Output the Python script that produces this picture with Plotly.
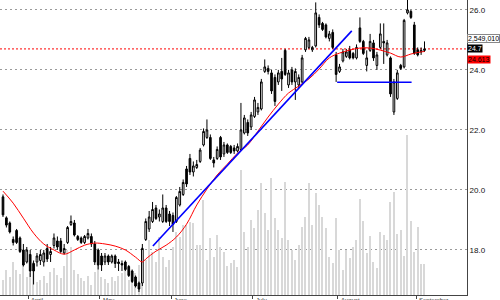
import plotly.graph_objects as go

opens = [19.77, 19.07, 18.9, 18.35, 18.65, 18.4, 18.0, 17.6, 17.85, 17.55,
         17.6, 17.65, 17.6, 18.05, 17.85, 18.15, 18.3, 18.3, 17.9, 18.25,
         18.85, 18.9, 18.45, 18.4, 18.25, 18.4, 18.45, 18.2, 18.0, 17.8,
         17.6, 17.8, 17.6, 17.8, 17.6, 17.55, 17.6, 17.45, 17.3, 17.1,
         16.9, 16.9, 18.35, 18.7, 18.95, 19.4, 19.1, 18.95, 19.4, 19.2,
         19.15, 18.95, 19.5, 19.85, 20.7, 21.05, 20.6, 20.75, 20.95, 21.5,
         21.75, 21.75, 21.0, 21.05, 21.75, 21.2, 21.5, 21.45, 21.4, 21.3,
         21.35, 21.9, 22.25, 22.1, 22.45, 22.6, 22.7, 23.95, 24.05, 23.9,
         23.75, 23.6, 23.95, 24.65, 23.5, 24.0, 23.6, 23.5, 23.6, 24.67,
         24.75, 24.67, 24.8, 25.75, 25.55, 25.5, 25.05, 25.25, 24.5, 23.95,
         24.3, 24.45, 24.67, 24.55, 24.4, 25.4, 24.95, 24.15, 24.65, 24.9,
         24.15, 24.75, 24.95, 24.5, 24.4, 22.6, 23.05, 24.15, 24.1, 25.9,
         25.95, 25.5, 24.67, 24.6, 24.65]
highs = [19.85, 19.12, 18.95, 18.45, 18.7, 18.45, 18.2, 18.1, 18.0, 17.65,
         17.9, 18.0, 18.0, 18.2, 18.1, 18.55, 18.45, 18.4, 18.2, 18.8,
         19.15, 19.0, 18.5, 18.45, 18.5, 18.7, 18.55, 18.3, 18.05, 17.9,
         17.9, 17.85, 17.85, 17.85, 17.7, 17.65, 17.65, 17.5, 17.35, 17.15,
         16.95, 18.2, 19.05, 19.3, 19.6, 19.5, 19.35, 19.85, 19.5, 19.3,
         19.25, 19.8, 20.1, 20.35, 20.8, 21.2, 20.95, 21.0, 21.4, 22.05,
         22.35, 21.85, 21.1, 21.45, 21.8, 21.6, 21.55, 21.5, 21.5, 21.55,
         22.9, 22.5, 22.35, 22.6, 23.1, 22.9, 23.7, 24.35, 24.15, 24.0,
         23.85, 24.0, 24.4, 24.7, 24.0, 24.1, 24.05, 23.85, 24.5, 25.1,
         25.1, 24.8, 26.25, 25.85, 25.6, 25.55, 25.3, 25.35, 24.6, 24.2,
         24.7, 24.7, 24.8, 24.6, 24.85, 25.75, 25.0, 24.65, 25.2, 25.0,
         24.6, 25.55, 25.55, 25.0, 24.45, 23.7, 24.0, 24.2, 25.7, 26.33,
         26.0, 25.6, 24.75, 24.75, 24.95]
lows = [19.1, 18.75, 18.55, 18.15, 18.2, 17.9, 17.45, 17.55, 17.1, 16.85,
        17.45, 17.5, 17.45, 17.6, 17.6, 18.05, 18.0, 17.9, 17.85, 18.2,
        18.8, 18.45, 18.3, 18.2, 18.2, 18.35, 18.1, 17.5, 17.35, 17.3,
        17.5, 17.5, 17.55, 17.4, 17.3, 17.3, 17.3, 17.1, 16.9, 16.75,
        16.6, 16.8, 18.3, 18.6, 18.9, 19.0, 18.95, 18.9, 18.9, 18.8,
        18.6, 18.9, 19.45, 19.8, 20.1, 20.5, 20.45, 20.7, 20.9, 21.45,
        21.7, 21.0, 20.75, 21.0, 21.0, 21.1, 21.2, 21.2, 21.2, 21.25,
        21.3, 21.85, 21.8, 22.0, 22.4, 22.5, 22.65, 23.9, 23.85, 23.2,
        22.8, 23.5, 23.3, 23.8, 23.4, 23.5, 23.0, 23.4, 23.55, 24.6,
        24.7, 24.6, 24.75, 25.4, 25.3, 25.05, 24.95, 24.7, 23.6, 23.9,
        24.25, 24.4, 24.35, 24.35, 24.35, 24.9, 24.5, 23.95, 24.6, 24.3,
        24.0, 24.7, 24.2, 24.45, 23.1, 22.5, 23.0, 24.0, 24.05, 25.85,
        25.7, 24.5, 24.45, 24.5, 24.6]
closes = [19.17, 18.83, 18.6, 18.25, 18.25, 17.95, 17.5, 18.0, 17.3, 17.3,
          17.8, 17.85, 17.9, 17.7, 17.95, 18.4, 18.1, 17.95, 18.05, 18.75,
          18.95, 18.5, 18.35, 18.25, 18.45, 18.55, 18.2, 17.6, 17.5, 17.5,
          17.8, 17.6, 17.8, 17.55, 17.55, 17.5, 17.35, 17.15, 16.95, 16.8,
          16.7, 18.05, 18.95, 19.1, 19.35, 19.05, 19.2, 19.4, 18.95, 18.95,
          18.85, 19.75, 19.95, 20.25, 20.2, 20.6, 20.8, 20.85, 21.33, 21.95,
          22.0, 21.05, 20.9, 21.35, 21.1, 21.5, 21.25, 21.25, 21.3, 21.45,
          22.0, 22.4, 21.9, 22.5, 23.0, 22.75, 23.6, 24.1, 23.95, 23.3,
          22.95, 23.9, 23.7, 23.85, 23.9, 23.6, 23.95, 23.75, 24.4, 25.05,
          25.0, 24.75, 25.9, 25.5, 25.35, 25.1, 25.2, 24.75, 23.85, 24.1,
          24.6, 24.6, 24.4, 24.4, 24.75, 24.95, 24.55, 24.4, 24.95, 24.4,
          24.5, 25.2, 24.9, 24.9, 23.2, 23.6, 23.9, 24.05, 25.65, 26.0,
          25.75, 24.55, 24.5, 24.65, 24.7]
volumes_m = [1.23, 2.06, 1.48, 2.71, 2.06, 1.73, 2.47, 1.48, 1.81, 2.71,
             1.07, 1.23, 1.56, 0.99, 1.89, 2.22, 1.64, 1.40, 2.38, 3.70,
             3.95, 2.06, 1.73, 1.40, 1.15, 1.56, 0.82, 1.89, 2.71, 1.48,
             1.32, 0.99, 1.48, 1.15, 1.56, 1.81, 2.30, 1.23, 1.40, 1.81,
             2.47, 3.95, 2.88, 4.52, 3.53, 2.71, 4.77, 3.12, 2.30, 2.88,
             3.95, 5.18, 4.77, 5.75, 5.75, 6.00, 5.92, 4.11, 4.11, 7.81,
             2.88, 4.69, 3.12, 4.93, 3.95, 3.53, 2.38, 2.63, 2.88, 2.30,
             10.28, 5.18, 3.95, 6.17, 5.51, 6.99, 9.21, 6.74, 5.34, 9.62,
             6.33, 5.34, 4.69, 9.29, 4.52, 3.70, 2.88, 4.11, 5.59, 6.41,
             9.21, 5.75, 8.38, 7.40, 6.41, 5.51, 3.12, 2.63, 6.33, 3.70,
             2.06, 3.70, 3.04, 3.95, 4.52, 7.89, 6.08, 3.45, 4.85, 2.71,
             2.22, 5.18, 4.93, 4.52, 7.65, 8.47, 5.01, 5.34, 3.21, 13.15,
             6.08, 3.53, 5.59, 2.55, 2.54901]
ma_idx = [0, 3, 6, 9, 12, 15, 18, 21, 24, 27, 30, 33, 36, 39, 41, 42, 45, 48,
          51, 54, 57, 60, 63, 66, 69, 72, 75, 78, 81, 84, 87, 90, 93, 96, 99,
          102, 105, 108, 111, 114, 117, 120, 123, 124]
ma_val = [19.96, 19.56, 19.06, 18.56, 18.2, 18.0, 17.86, 18.0, 18.16, 18.23,
          18.2, 18.13, 18.0, 17.76, 17.6, 17.7, 17.96, 18.16, 18.43, 18.86,
          19.5, 20.03, 20.5, 20.86, 21.23, 21.5, 21.96, 22.43, 22.86, 23.23,
          23.46, 23.7, 24.03, 24.4, 24.56, 24.66, 24.73, 24.73, 24.66, 24.56,
          24.43, 24.53, 24.6, 24.613]
trend_x = [44.1, 102.6]
trend_y = [18.13, 25.3]
support_x = [98.3, 120.2]
support_y = [23.59, 23.59]
month_idx = [7.5, 28.5, 49.5, 73.5, 98.5, 121.5]
month_labels = ["April", "May", "June", "July", "August", "September"]
price_ticks = [18, 20, 22, 24, 26]
last_volume = 2549010

idx = list(range(len(closes)))
FONT = "Liberation Sans, Arial, sans-serif"

fig = go.Figure()
fig.add_trace(go.Bar(x=idx, y=[v * 1e6 for v in volumes_m], yaxis="y",
                     marker=dict(color="#d8d8d8", line=dict(width=0)),
                     width=0.4, showlegend=False, hoverinfo="skip"))
fig.add_trace(go.Scatter(x=ma_idx, y=ma_val, yaxis="y2", mode="lines",
                         line=dict(color="#ff0000", width=1, shape="spline"),
                         showlegend=False))
fig.add_trace(go.Candlestick(x=idx, open=opens, high=highs, low=lows, close=closes,
                             yaxis="y2", whiskerwidth=0,
                             increasing=dict(fillcolor="white", line=dict(color="black", width=1)),
                             decreasing=dict(fillcolor="black", line=dict(color="black", width=1)),
                             showlegend=False))
fig.add_trace(go.Scatter(x=trend_x, y=trend_y, yaxis="y2", mode="lines",
                         line=dict(color="#0000ff", width=1.6), showlegend=False))
fig.add_trace(go.Scatter(x=support_x, y=support_y, yaxis="y2", mode="lines",
                         line=dict(color="#0000ff", width=1.6), showlegend=False))

fig.add_shape(type="line", xref="paper", x0=0, x1=1, yref="y2",
              y0=closes[-1], y1=closes[-1], layer="below",
              line=dict(color="#ff0000", width=1, dash="2px,2px"))

annotations = []
for mi, ml in zip(month_idx, month_labels):
    annotations.append(dict(x=mi, xref="x", y=0, yref="paper", text=ml,
                            showarrow=False, xanchor="left", yanchor="top",
                            yshift=0, xshift=1, font=dict(size=6, color="#333", family=FONT)))
annotations.append(dict(x=1, xref="paper", y=0.868, yref="paper",
                        text=f"{last_volume:,}", showarrow=False, xanchor="left",
                        yanchor="middle", bgcolor="white", bordercolor="#888",
                        borderwidth=1, borderpad=0, font=dict(size=7, color="black", family=FONT)))
annotations.append(dict(x=1, xref="paper", y=closes[-1], yref="y2",
                        text=f"{closes[-1]:.1f}", showarrow=False, xanchor="left",
                        yanchor="middle", bgcolor="black", borderpad=0,
                        font=dict(size=7, color="white", family=FONT)))
annotations.append(dict(x=1, xref="paper", y=ma_val[-1], yref="y2", yshift=-8,
                        text=f"{ma_val[-1]:.3f}", showarrow=False, xanchor="left",
                        yanchor="middle", bgcolor="#ff0000", borderpad=0,
                        font=dict(size=7, color="black", family=FONT)))

fig.update_layout(
    width=500, height=300,
    margin=dict(l=0, r=33, t=0, b=5),
    paper_bgcolor="white", plot_bgcolor="white",
    bargap=0, showlegend=False,
    annotations=annotations,
    xaxis=dict(range=[-0.88, 136.5], showgrid=False, zeroline=False,
               rangeslider=dict(visible=False),
               showline=True, linecolor="#444", linewidth=1,
               ticks="outside", ticklen=3, tickcolor="#444",
               tickvals=month_idx, showticklabels=False),
    yaxis=dict(range=[0, 24.25e6], visible=False, showgrid=False, fixedrange=True),
    yaxis2=dict(overlaying="y", side="right", range=[16.5, 26.33],
                tickvals=price_ticks, ticktext=[f"{t:.1f}" for t in price_ticks],
                showgrid=True, gridcolor="#9a9a9a", gridwidth=1, griddash="2px,3px",
                zeroline=False, showline=True, linecolor="#444", linewidth=1,
                ticks="", tickfont=dict(size=8, color="#111", family=FONT)),
    font=dict(family=FONT),
)

fig.write_html("out.html")
